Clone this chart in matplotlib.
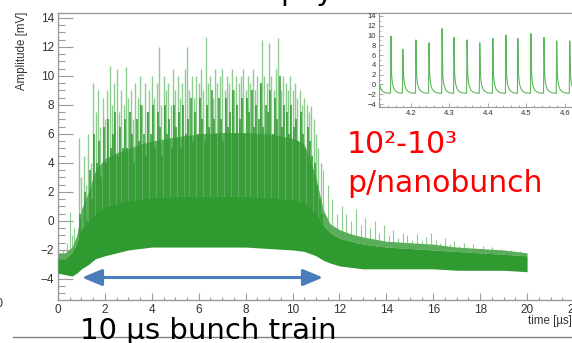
import numpy as np
import matplotlib
matplotlib.use("Agg")
import matplotlib.pyplot as plt
from matplotlib.lines import Line2D

W, H = 572, 343

# dense noise band of the waveform, mV: lower edge, top of the solid core
# and top of the haze of overlapping pulses
t_env = [0, 0.3, 0.6, 0.8, 1.0, 1.3, 1.6, 2.0, 2.5, 3.0, 3.5, 4.0, 5.0, 6.0, 7.0, 8.0,
         9.0, 10.0, 10.5, 11.0, 11.3, 11.6, 12.0, 12.5, 13.0, 14.0, 15.0, 16.0, 17.0,
         18.0, 19.0, 20.0]
low_env = [-3.6, -3.7, -3.8, -3.6, -3.3, -3.0, -2.6, -2.4, -2.2, -2.0, -1.9, -1.8, -1.8,
           -1.8, -1.8, -1.8, -1.9, -2.0, -2.1, -2.4, -2.7, -2.9, -3.1, -3.2, -3.3, -3.3,
           -3.3, -3.3, -3.4, -3.4, -3.4, -3.5]
core_env = [-2.6, -2.6, -2.2, -1.5, -0.5, 0.0, 0.5, 1.0, 1.2, 1.4, 1.5, 1.6, 1.7, 1.7,
            1.7, 1.7, 1.6, 1.5, 1.3, 0.5, -0.3, -0.8, -1.2, -1.4, -1.6, -1.8, -1.9, -2.0,
            -2.1, -2.2, -2.3, -2.4]
haze_env = [-2.2, -2.2, -1.8, -1.0, 0.8, 2.0, 3.5, 4.3, 4.7, 5.0, 5.3, 5.5, 5.8, 6.0,
            6.1, 6.1, 6.0, 5.7, 5.3, 3.0, 0.8, -0.2, -0.6, -0.9, -1.1, -1.4, -1.5, -1.6,
            -1.8, -1.9, -2.0, -2.2]

# small spikes before the train
pre_t = [0.2, 0.4, 0.5, 0.6, 0.7, 0.8]
pre_h = [-2.0, -1.5, 0.6, -1.0, -0.5, -1.2]

# bunch train spikes (pale = full pulse height, dark = dense part)
bunch_t = [0.9, 1.0, 1.1, 1.2, 1.3, 1.4, 1.5, 1.6, 1.7, 1.8,
           1.9, 2.0, 2.1, 2.2, 2.3, 2.4, 2.5, 2.6, 2.7, 2.8,
           2.9, 3.0, 3.1, 3.2, 3.3, 3.4, 3.5, 3.6, 3.7, 3.8,
           3.9, 4.0, 4.1, 4.2, 4.3, 4.4, 4.5, 4.6, 4.7, 4.8,
           4.9, 5.0, 5.1, 5.2, 5.3, 5.4, 5.5, 5.6, 5.7, 5.8,
           5.9, 6.0, 6.1, 6.2, 6.3, 6.4, 6.5, 6.6, 6.7, 6.8,
           6.9, 7.0, 7.1, 7.2, 7.3, 7.4, 7.5, 7.6, 7.7, 7.8,
           7.9, 8.0, 8.1, 8.2, 8.3, 8.4, 8.5, 8.6, 8.7, 8.8,
           8.9, 9.0, 9.1, 9.2, 9.3, 9.4, 9.5, 9.6, 9.7, 9.8,
           9.9, 10.0, 10.1, 10.2, 10.3, 10.4, 10.5, 10.6, 10.7, 10.8,
           10.9, 11.0, 11.1, 11.2]
light_h = [5.7, 3.0, 4.5, 2.5, 6.0, 4.0, 9.5, 7.5, 9.0, 6.5,
           8.5, 7.0, 9.0, 10.7, 8.0, 9.5, 10.5, 7.5, 9.0, 8.0,
           10.6, 8.5, 9.0, 7.0, 9.5, 8.5, 10.0, 8.0, 9.5, 7.5,
           9.0, 10.0, 8.5, 9.5, 12.0, 8.0, 10.0, 9.0, 9.5, 8.0,
           10.5, 9.0, 10.0, 8.5, 9.5, 10.5, 12.0, 9.0, 10.0, 8.5,
           10.0, 9.5, 10.5, 9.0, 12.7, 9.5, 10.0, 8.5, 10.5, 9.5,
           10.0, 10.5, 9.0, 10.0, 9.5, 10.5, 9.0, 10.0, 9.5, 10.0,
           10.5, 9.0, 10.0, 9.5, 10.5, 9.0, 10.0, 9.5, 12.5, 10.0,
           9.5, 12.3, 10.0, 9.0, 10.5, 12.6, 9.0, 10.0, 9.5, 9.0,
           10.0, 9.0, 9.5, 8.5, 9.0, 8.0, 8.5, 8.0, 7.5, 7.9,
           7.0, 6.0, 5.0, 4.0]
dark_h = [0.5, -1.0, 2.0, 0.0, 3.5, 1.5, 6.0, 4.0, 5.5, 3.0,
          6.5, 4.0, 7.0, 5.0, 6.0, 7.5, 4.5, 6.5, 5.0, 7.0,
          5.0, 7.5, 6.0, 4.0, 7.0, 5.5, 8.0, 6.0, 4.5, 7.5,
          6.0, 8.0, 5.0, 7.5, 6.5, 4.5, 8.0, 6.0, 7.0, 5.0,
          8.0, 6.5, 7.5, 5.0, 8.0, 6.0, 7.0, 8.5, 5.5, 7.5,
          6.0, 8.5, 7.0, 5.5, 8.0, 6.5, 9.0, 7.0, 6.0, 8.5,
          7.0, 5.5, 8.5, 6.5, 7.5, 9.0, 6.0, 8.0, 7.0, 8.5,
          6.0, 8.5, 7.5, 9.0, 6.5, 8.0, 7.0, 9.5, 6.5, 8.0,
          7.5, 9.0, 6.0, 8.5, 7.0, 10.0, 6.5, 8.0, 7.5, 6.0,
          8.0, 6.5, 7.0, 5.5, 7.5, 6.0, 5.0, 6.5, 5.5, 4.5,
          4.0, 2.5, 1.5, 0.5]

# afterglow spikes after the train
tail_t = [11.3, 11.5, 11.7, 11.9, 12.1, 12.3, 12.5, 12.7, 12.9, 13.1,
          13.3, 13.5, 13.7, 13.9, 14.1, 14.3, 14.5, 14.7, 14.9, 15.1,
          15.3, 15.5, 15.7, 15.9, 16.1, 16.3, 16.5, 16.7, 16.9, 17.1,
          17.3, 17.5, 17.7, 17.9, 18.1, 18.3, 18.5, 18.7, 18.9, 19.1,
          19.3, 19.5, 19.7, 19.9]
tail_h = [3.5, 2.5, 1.5, 0.5, 1.0, 0.5, 0.0, 0.8, -0.3, 0.2,
          -0.5, 0.0, -0.8, -0.3, -1.0, -0.6, -1.2, -0.8, -1.0, -1.3,
          -0.9, -1.4, -1.1, -0.8, -1.3, -1.5, -1.2, -1.6, -1.4, -1.7,
          -1.5, -1.8, -1.6, -1.9, -1.7, -2.0, -1.8, -2.1, -1.9, -2.2,
          -2.0, -2.3, -2.1, -2.2]

# zoomed inset: individual nanobunch pulses
inset_peak_t = [4.114, 4.148, 4.179, 4.213, 4.247, 4.281, 4.312, 4.346, 4.379,
                4.413, 4.447, 4.478, 4.512, 4.546, 4.579, 4.613, 4.646]
inset_peak_h = [9.0, 9.9, 7.2, 9.1, 8.5, 11.4, 9.6, 9.1, 8.5,
                9.4, 10.1, 9.4, 10.4, 9.6, 8.9, 8.9, 9.0]
inset_base = -1.8
pulse_dt = [-0.0012, 0.0, 0.0018, 0.004, 0.008, 0.013, 0.02]
pulse_fall = [2.0, 0.2, -0.9, -1.4, -1.7]

GREEN = "#2f9a2f"
PALE = "#8fcc8f"
HAZE = "#5aad5a"
GRAY = "#9a9a9a"
LABEL = "#333333"


def fx(x):
    return x / W


def fy(y):
    return 1 - y / H


fig = plt.figure(figsize=(W / 100, H / 100), dpi=100)

ax = fig.add_axes([fx(58), fy(300), 516 / W, 287 / H])
ax.set_xlim(0, 22)
ax.set_ylim(-5.45, 14.34)

ax.fill_between(t_env, core_env, haze_env, color=HAZE, lw=0, zorder=2.2)
ax.fill_between(t_env, low_env, core_env, color=GREEN, lw=0, zorder=3)

bunch_base = np.interp(bunch_t, t_env, core_env) - 0.3
ax.vlines(bunch_t, bunch_base, light_h, color=PALE, lw=1.0, zorder=2)
ax.vlines(np.array(bunch_t) + 0.05, bunch_base, dark_h, color=GREEN, lw=1.1, zorder=2.6)
pre_base = np.interp(pre_t, t_env, core_env) - 0.3
ax.vlines(pre_t, pre_base, pre_h, color=PALE, lw=0.8, zorder=2)
tail_base = np.interp(tail_t, t_env, core_env) - 0.3
ax.vlines(tail_t, tail_base, tail_h, color=PALE, lw=0.8, zorder=2)

ax.annotate("", xy=(1.02, -3.9), xytext=(11.3, -3.9),
            arrowprops=dict(arrowstyle="<|-|>,head_length=0.6,head_width=0.25",
                            color="#4a7ebb", lw=2.2, mutation_scale=20,
                            shrinkA=0, shrinkB=0), zorder=5)

ax.set_xticks(np.arange(0, 23, 2))
ax.set_xticks(np.arange(0, 22.01, 0.5), minor=True)
ax.set_yticks(np.arange(-4, 15, 2))
ax.set_yticks(np.arange(-5, 14.01, 0.5), minor=True)
ax.tick_params(axis="x", which="major", direction="in", length=5, width=0.8,
               color=GRAY, labelsize=8.5, labelcolor=LABEL, pad=3)
ax.tick_params(axis="x", which="minor", direction="in", length=2.5, width=0.8, color=GRAY)
ax.tick_params(axis="y", which="major", direction="in", length=10.8, width=0.8,
               color=GRAY, labelsize=8.5, labelcolor=LABEL, pad=3)
ax.tick_params(axis="y", which="minor", direction="in", length=5, width=0.8, color=GRAY)
for lab in ax.get_xticklabels() + ax.get_yticklabels():
    lab.set_family("Liberation Sans")
for side in ["left", "bottom", "top"]:
    ax.spines[side].set_color(GRAY)
    ax.spines[side].set_linewidth(1)
ax.spines["right"].set_visible(False)

# inset
xs, ys = [], []
for tp, h in zip(inset_peak_t, inset_peak_h):
    vals = [inset_base, h] + pulse_fall
    for dt, v in zip(pulse_dt, vals):
        xs.append(tp + dt)
        ys.append(v)

axi = fig.add_axes([fx(379), fy(107), (584 - 379) / W, 94 / H])
axi.set_facecolor("white")
axi.plot(xs, ys, color="#5cb85c", lw=0.8)
axi.set_xlim(4.117, 4.65)
axi.set_ylim(-4.6, 14.6)
axi.set_xticks([4.2, 4.3, 4.4, 4.5, 4.6])
axi.set_xticks(np.arange(4.12, 4.65, 0.02), minor=True)
axi.set_yticks(np.arange(-4, 15, 2))
axi.set_yticks(np.arange(-4, 15, 1), minor=True)
axi.tick_params(axis="both", which="major", direction="in", length=3, width=0.6,
                color=GRAY, labelsize=5.5, labelcolor=LABEL, pad=2)
axi.tick_params(axis="both", which="minor", direction="in", length=1.5, width=0.6, color=GRAY)
for lab in axi.get_xticklabels() + axi.get_yticklabels():
    lab.set_family("Liberation Sans")
for side in ["left", "bottom", "top"]:
    axi.spines[side].set_color(GRAY)
    axi.spines[side].set_linewidth(0.8)
axi.spines["right"].set_visible(False)

# axis titles
fig.text(fx(22), fy(12), "Amplitude [mV]", rotation=90, ha="center", va="top",
         fontsize=8.3, color=LABEL, family="Liberation Sans")
fig.text(fx(572), fy(321), "time [\u00b5s]", ha="right", va="center",
         fontsize=8.3, color=LABEL, family="Liberation Sans")

# slide annotations
fig.add_artist(Line2D([fx(13), fx(572)], [fy(337), fy(337)], color="#808080", lw=1))
fig.text(fx(80), fy(339), "10 \u00b5s bunch train", ha="left", va="baseline",
         fontsize=21, color="black", family="DejaVu Sans")
fig.text(fx(347), fy(153), "10\u00b2-10\u00b3", ha="left", va="baseline",
         fontsize=21.5, color="#ff0000", family="DejaVu Sans")
fig.text(fx(347), fy(192), "p/nanobunch", ha="left", va="baseline",
         fontsize=21.5, color="#ff0000", family="DejaVu Sans")
fig.text(fx(280), fy(0), "pay", ha="left", va="baseline",
         fontsize=21, color="black", family="DejaVu Sans")
fig.text(fx(3), fy(304), "0", ha="right", va="center",
         fontsize=9, color=LABEL, family="Liberation Sans")

fig.savefig("out.png", dpi=100)
